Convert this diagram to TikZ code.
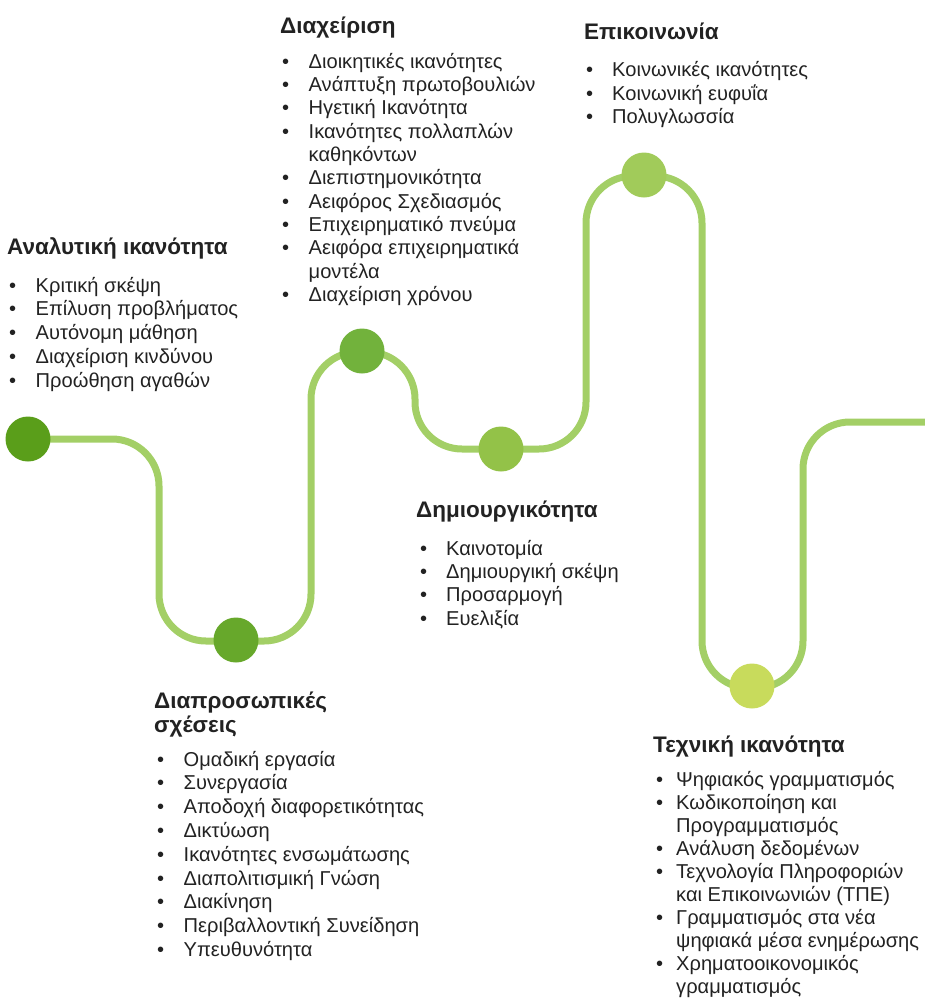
\documentclass[tikz,border=0pt]{standalone}
\usepackage{fontspec}
\setmainfont{Liberation Sans}
\definecolor{trk}{HTML}{A3CF66}
\definecolor{cA}{HTML}{5A9E1A}
\definecolor{cB}{HTML}{67A82B}
\definecolor{cC}{HTML}{72B23C}
\definecolor{cD}{HTML}{93C248}
\definecolor{cE}{HTML}{A1CB5A}
\definecolor{cF}{HTML}{C8DB5C}
\definecolor{txt}{HTML}{222222}
\newcommand\titlefont{\fontsize{22.5}{26}\selectfont\bfseries}
\newcommand\bodyfont{\fontsize{20.1}{23.5}\selectfont}
\tikzset{
  track/.style={draw=trk, line width=7pt, rounded corners=47pt},
  mdot/.style={circle, inner sep=0pt, minimum size=45pt, fill=#1, draw=none},
  ttl/.style={anchor=base west, inner sep=0pt, font=\titlefont, text=txt},
  itx/.style={anchor=base west, inner sep=0pt, font=\bodyfont, text=txt},
}
% name, bullet x, text x, baseline y, text
\newcommand\itm[5]{\node[itx] (#1-b) at (#2,#4) {•}; \node[itx] (#1) at (#3,#4) {#5};}
% name, text x, baseline y, text
\newcommand\cnt[4]{\node[itx] (#1) at (#2,#3) {#4};}
\begin{document}
\begin{tikzpicture}[x=1pt,y=-1pt]
\useasboundingbox (0,0) rectangle (925,1002);
% track
\coordinate (s0) at (28,439);
\coordinate (s1) at (940,422);
\draw[track] (s0) -- (159,439) -- (159,641) -- (311,641) -- (311,352)
  -- (415,352) -- (415,449) -- (586,449) -- (586,176) -- (702,176)
  -- (702,688) -- (803,688) -- (803,422) -- (s1);
% milestones
\node[mdot=cA] (c1) at (28,439) {};
\node[mdot=cB] (c2) at (236,640) {};
\node[mdot=cC] (c3) at (362,351) {};
\node[mdot=cD] (c4) at (501,449) {};
\node[mdot=cE] (c5) at (644,175) {};
\node[mdot=cF] (c6) at (752,686) {};
% Block A
\node[ttl] (tA) at (7,254) {Αναλυτική ικανότητα};
\itm{a1}{9}{35.5}{292}{Κριτική σκέψη}
\itm{a2}{9}{35.5}{315.8}{Επίλυση προβλήματος}
\itm{a3}{9}{35.5}{339.6}{Αυτόνομη μάθηση}
\itm{a4}{9}{35.5}{363.4}{Διαχείριση κινδύνου}
\itm{a5}{9}{35.5}{387.2}{Προώθηση αγαθών}
% Block B
\node[ttl] (tB) at (280,33) {Διαχείριση};
\itm{b1}{282}{308.5}{68}{Διοικητικές ικανότητες}
\itm{b2}{282}{308.5}{91.4}{Ανάπτυξη πρωτοβουλιών}
\itm{b3}{282}{308.5}{114.7}{Ηγετική Ικανότητα}
\itm{b4}{282}{308.5}{138.1}{Ικανότητες πολλαπλών}
\cnt{b4c}{308.5}{161.4}{καθηκόντων}
\itm{b5}{282}{308.5}{184.8}{Διεπιστημονικότητα}
\itm{b6}{282}{308.5}{208.1}{Αειφόρος Σχεδιασμός}
\itm{b7}{282}{308.5}{231.5}{Επιχειρηματικό πνεύμα}
\itm{b8}{282}{308.5}{254.8}{Αειφόρα επιχειρηματικά}
\cnt{b8c}{308.5}{278.2}{μοντέλα}
\itm{b9}{282}{308.5}{301.5}{Διαχείριση χρόνου}
% Block C
\node[ttl] (tC) at (584,39) {Επικοινωνία};
\itm{e1}{586}{612}{76.5}{Κοινωνικές ικανότητες}
\itm{e2}{586}{612}{100}{Κοινωνική ευφυΐα}
\itm{e3}{586}{612}{123.4}{Πολυγλωσσία}
% Block D
\node[ttl] (tD) at (416,517) {Δημιουργικότητα};
\itm{d1}{420}{446}{555}{Καινοτομία}
\itm{d2}{420}{446}{578.4}{Δημιουργική σκέψη}
\itm{d3}{420}{446}{601.8}{Προσαρμογή}
\itm{d4}{420}{446}{625.2}{Ευελιξία}
% Block E
\node[ttl] (tE1) at (154,708) {Διαπροσωπικές};
\node[ttl] (tE2) at (154,732.5) {σχέσεις};
\itm{p1}{157}{183.5}{766}{Ομαδική εργασία}
\itm{p2}{157}{183.5}{789.8}{Συνεργασία}
\itm{p3}{157}{183.5}{813.6}{Αποδοχή διαφορετικότητας}
\itm{p4}{157}{183.5}{837.4}{Δικτύωση}
\itm{p5}{157}{183.5}{861.2}{Ικανότητες ενσωμάτωσης}
\itm{p6}{157}{183.5}{885}{Διαπολιτισμική Γνώση}
\itm{p7}{157}{183.5}{908.8}{Διακίνηση}
\itm{p8}{157}{183.5}{932.6}{Περιβαλλοντική Συνείδηση}
\itm{p9}{157}{183.5}{956.4}{Υπευθυνότητα}
% Block F
\node[ttl] (tF) at (653,752) {Τεχνική ικανότητα};
\itm{t1}{656}{676}{786.5}{Ψηφιακός γραμματισμός}
\itm{t2}{656}{676}{809.5}{Κωδικοποίηση και}
\cnt{t2c}{676}{832.5}{Προγραμματισμός}
\itm{t3}{656}{676}{855.5}{Ανάλυση δεδομένων}
\itm{t4}{656}{676}{878.5}{Τεχνολογία Πληροφοριών}
\cnt{t4c}{676}{901.5}{και Επικοινωνιών (ΤΠΕ)}
\itm{t5}{656}{676}{924.5}{Γραμματισμός στα νέα}
\cnt{t5c}{676}{947.5}{ψηφιακά μέσα ενημέρωσης}
\itm{t6}{656}{676}{970.5}{Χρηματοοικονομικός}
\cnt{t6c}{676}{993.5}{γραμματισμός}
\end{tikzpicture}
\end{document}
